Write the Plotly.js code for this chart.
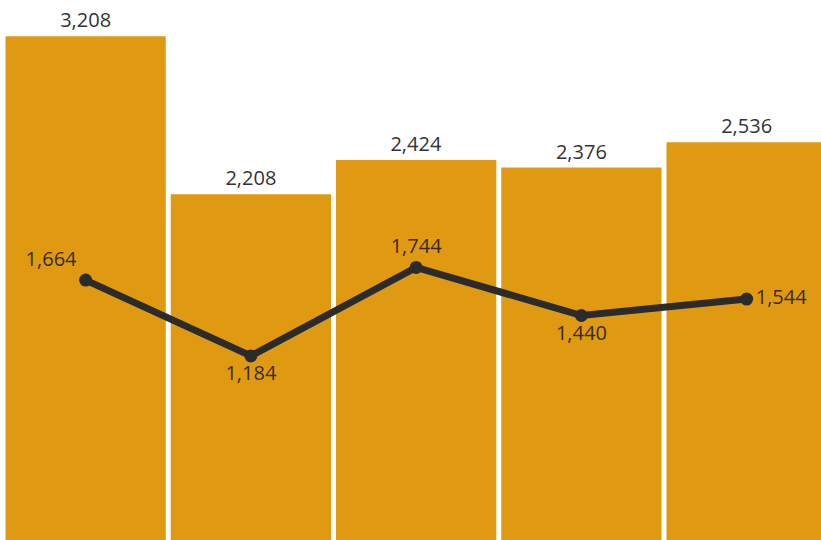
<!DOCTYPE html>
<html><head><meta charset="utf-8">
<script src="https://cdn.plot.ly/plotly-3.0.1.min.js"></script>
<style>html,body{margin:0;padding:0;background:#fff;}#chart{width:821px;height:540px;}</style>
</head><body><div id="chart"></div>
<script>
const categories = ['A', 'B', 'C', 'D', 'E'];
const barValues = [3208, 2208, 2424, 2376, 2536];
const lineValues = [1664, 1184, 1744, 1440, 1544];
const linePositions = ['top left', 'bottom center', 'top center', 'bottom center', 'middle right'];

const fmt = v => v.toLocaleString('en-US');

const bars = {
  type: 'bar', x: categories, y: barValues,
  marker: {color: '#E09A12'},
  text: barValues.map(fmt), textposition: 'outside',
  textfont: {family: 'Open Sans, Noto Sans, sans-serif', size: 20, color: '#333'},
  cliponaxis: false, hoverinfo: 'skip'
};
const line = {
  type: 'scatter', mode: 'lines+markers+text', x: categories, y: lineValues,
  line: {color: '#2b2b2b', width: 7},
  marker: {color: '#2b2b2b', size: 13},
  text: lineValues.map(fmt), textposition: linePositions,
  textfont: {family: 'Open Sans, Noto Sans, sans-serif', size: 20, color: '#3a2a1c'},
  cliponaxis: false, hoverinfo: 'skip'
};
const layout = {
  width: 821, height: 540,
  margin: {l: 3, r: 0, t: 0, b: 0},
  paper_bgcolor: '#fff', plot_bgcolor: '#fff',
  showlegend: false, bargap: 0.03,
  xaxis: {range: [-0.5, 4.45], visible: false, fixedrange: true},
  yaxis: {range: [19, 3437], visible: false, fixedrange: true},
  hovermode: false
};
Plotly.newPlot('chart', [bars, line], layout, {displayModeBar: false, staticPlot: true});
</script></body></html>
